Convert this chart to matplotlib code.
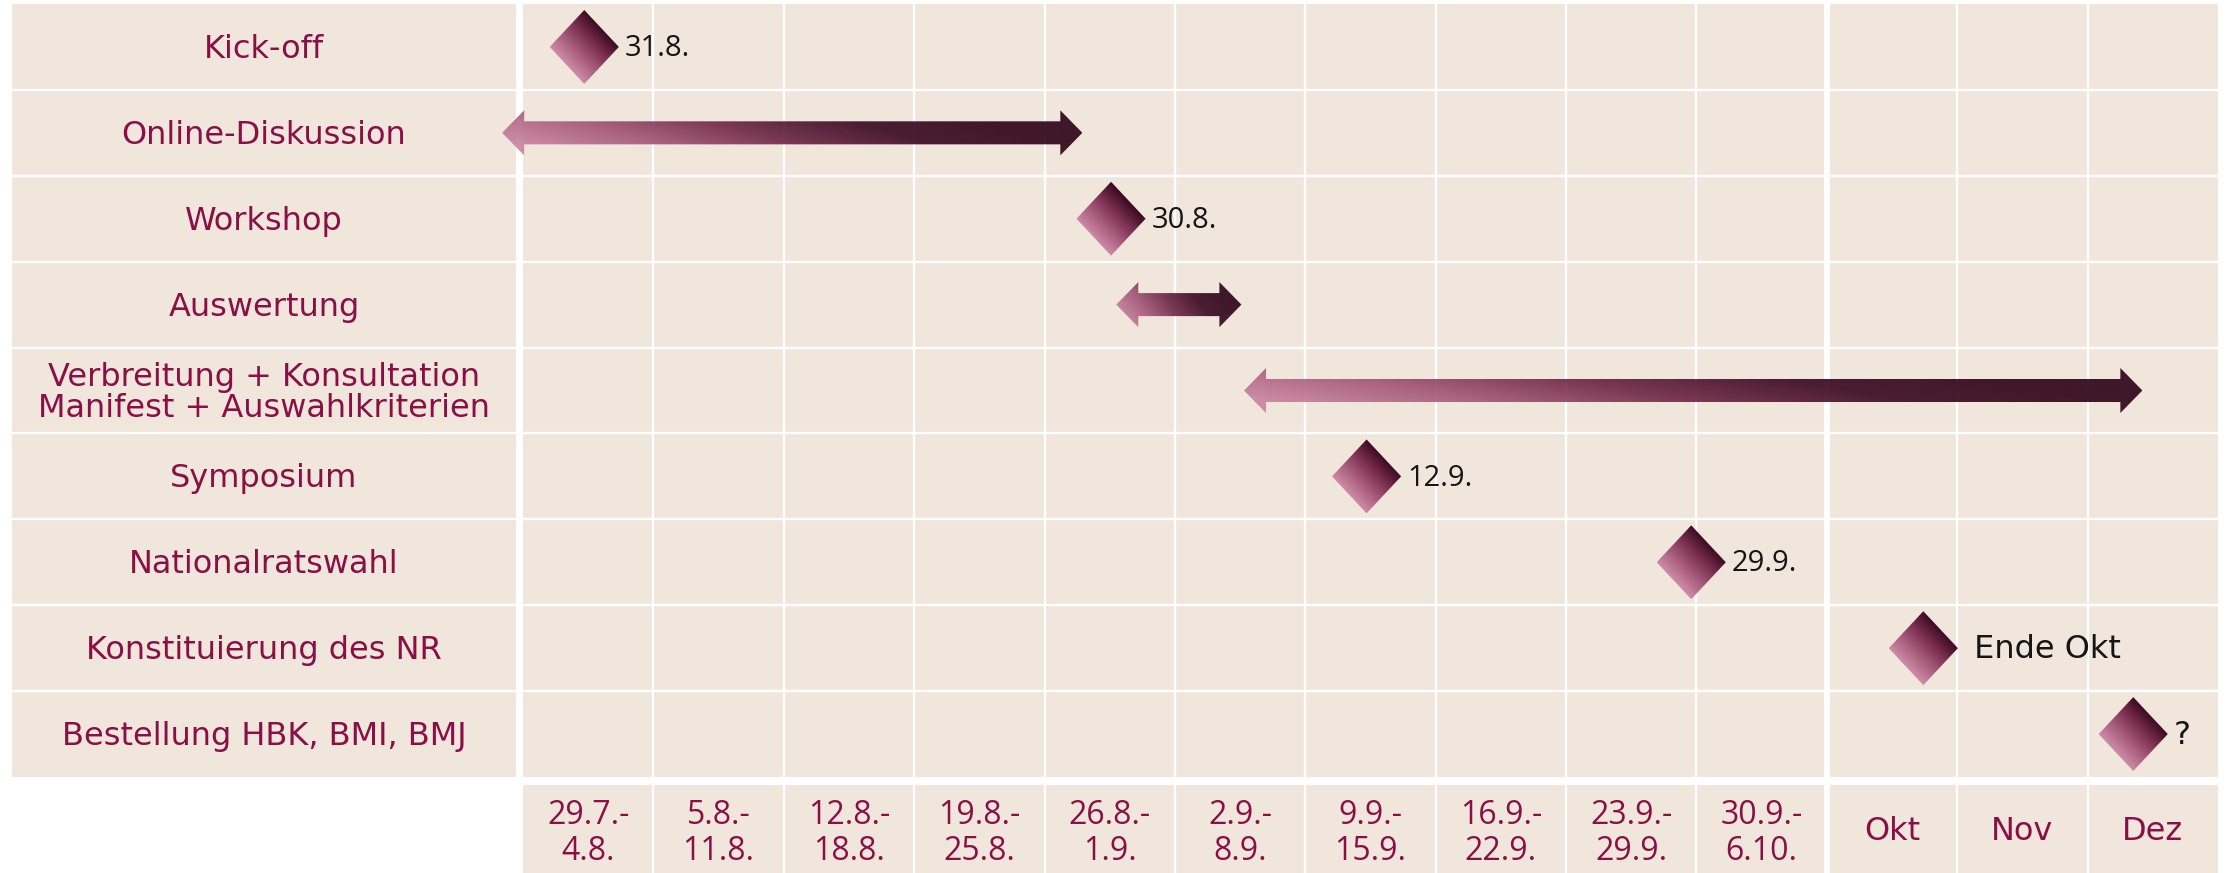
import numpy as np
import matplotlib.pyplot as plt
from matplotlib.patches import Polygon
from matplotlib.colors import LinearSegmentedColormap

WORD_FONT = ['DejaVu Sans']
NUM_FONT = ['Open Sans', 'DejaVu Sans']

# rows of the schedule (top to bottom)
tasks = ["Kick-off", "Online-Diskussion", "Workshop", "Auswertung",
         "Verbreitung + Konsultation\nManifest + Auswahlkriterien",
         "Symposium", "Nationalratswahl", "Konstituierung des NR",
         "Bestellung HBK, BMI, BMJ"]

# columns (weeks, then months)
periods = ["29.7.-\n4.8.", "5.8.-\n11.8.", "12.8.-\n18.8.", "19.8.-\n25.8.",
           "26.8.-\n1.9.", "2.9.-\n8.9.", "9.9.-\n15.9.", "16.9.-\n22.9.",
           "23.9.-\n29.9.", "30.9.-\n6.10.", "Okt", "Nov", "Dez"]

# milestones: row index, position in column units, label
milestone_rows = [0, 2, 5, 6, 7, 8]
milestone_pos = [0.47, 4.51, 6.47, 8.96, 10.74, 12.35]
milestone_labels = ["31.8.", "30.8.", "12.9.", "29.9.", " Ende Okt", "?"]

# spans drawn as double arrows
span_rows = [1, 3, 4]
span_start = [-0.16, 4.55, 5.53]
span_end = [4.29, 5.51, 12.42]

BEIGE = '#f0e6dc'
RED = '#8a0f47'
cmap = LinearSegmentedColormap.from_list(
    'wine', ['#cc8aa6', '#a85c7c', '#7a2f50', '#3a0a20'])
cmap_arrow = LinearSegmentedColormap.from_list(
    'wine2', ['#c9849f', '#a45878', '#6e2846', '#3c0b23', '#2f0519'])

W, H = 2234, 873
fig = plt.figure(figsize=(W / 100, H / 100), dpi=100)


def px_axes(x0, y0, x1, y1):
    a = fig.add_axes([x0 / W, 1 - y1 / H, (x1 - x0) / W, (y1 - y0) / H])
    a.set_facecolor(BEIGE)
    for s in a.spines.values():
        s.set_visible(False)
    a.set_xticks([])
    a.set_yticks([])
    return a


ax_lab = px_axes(12, 4, 516, 777)
ax_tick = px_axes(523, 785, 2218, 873)
ax = px_axes(523, 4, 2218, 777)
ax.set_zorder(3)

n_cols = len(periods)
n_rows = len(tasks)

ax.set_xlim(0, n_cols)
ax.set_ylim(n_rows, 0)
ax_lab.set_xlim(0, 1)
ax_lab.set_ylim(n_rows, 0)
ax_tick.set_xlim(0, n_cols)
ax_tick.set_ylim(1, 0)

# white cell separators
for c in range(1, n_cols):
    lw = 4.3 if c == 10 else 1.7
    ax.axvline(c, color='white', lw=lw, zorder=1)
    ax_tick.axvline(c, color='white', lw=lw, zorder=1)
for r in range(1, n_rows):
    ax.axhline(r, color='white', lw=1.7, zorder=1)
    ax_lab.axhline(r, color='white', lw=1.7, zorder=1)

# row labels
for i, t in enumerate(tasks):
    ax_lab.text(0.5, i + 0.53, t, ha='center', va='center', color=RED,
                fontsize=23, linespacing=1.03, family=WORD_FONT)

# column labels
for j, p in enumerate(periods):
    if p[0].isdigit():
        ax_tick.text(j + 0.5, 0.55, p, ha='center', va='center', color=RED,
                     fontsize=23, linespacing=1.12, family=NUM_FONT)
    else:
        ax_tick.text(j + 0.5, 0.53, p, ha='center', va='center', color=RED,
                     fontsize=23, family=WORD_FONT)


def gradient_shape(verts, wx, wy, off, alpha, cm):
    verts = np.array(verts)
    patch = Polygon(verts, closed=True, facecolor='none', edgecolor='none',
                    transform=ax.transData, clip_on=False)
    ax.add_patch(patch)
    x0, x1 = verts[:, 0].min(), verts[:, 0].max()
    y0, y1 = verts[:, 1].min(), verts[:, 1].max()
    n = 256
    xf = np.linspace(0, 1, n)[None, :]
    yf = np.linspace(0, 1, n)[:, None]
    v = np.clip(wx * xf + wy * (1 - yf) + off, 0, 1)
    im = ax.imshow(v, cmap=cm, vmin=0, vmax=1, extent=(x0, x1, y1, y0),
                   origin='upper', aspect='auto', interpolation='bilinear',
                   alpha=alpha, zorder=3)
    im.set_clip_path(patch)
    im.set_clip_box(fig.bbox)


dx, dy = 0.265, 0.43
for r, x, lab in zip(milestone_rows, milestone_pos, milestone_labels):
    yc = r + 0.5
    gradient_shape([(x - dx, yc), (x, yc - dy), (x + dx, yc), (x, yc + dy)],
                   1.0, 1.0, -0.5, 1.0, cmap)
    if lab[0].isdigit():
        ax.text(x + dx + 0.045, yc + 0.02, lab, ha='left', va='center',
                color='#151515', fontsize=21, zorder=4, family=NUM_FONT)
    else:
        ax.text(x + dx + 0.045, yc + 0.02, lab, ha='left', va='center',
                color='#151515', fontsize=23, zorder=4, family=WORD_FONT)

shaft, head, head_len = 0.134, 0.262, 0.169
for r, a, b in zip(span_rows, span_start, span_end):
    yc = r + 0.5
    verts = [(a, yc), (a + head_len, yc - head), (a + head_len, yc - shaft),
             (b - head_len, yc - shaft), (b - head_len, yc - head), (b, yc),
             (b - head_len, yc + head), (b - head_len, yc + shaft),
             (a + head_len, yc + shaft), (a + head_len, yc + head)]
    gradient_shape(verts, 1.05, 0.3, -0.1, 0.92, cmap_arrow)

ax.set_xlim(0, n_cols)
ax.set_ylim(n_rows, 0)

fig.savefig('out.png', dpi=100)
